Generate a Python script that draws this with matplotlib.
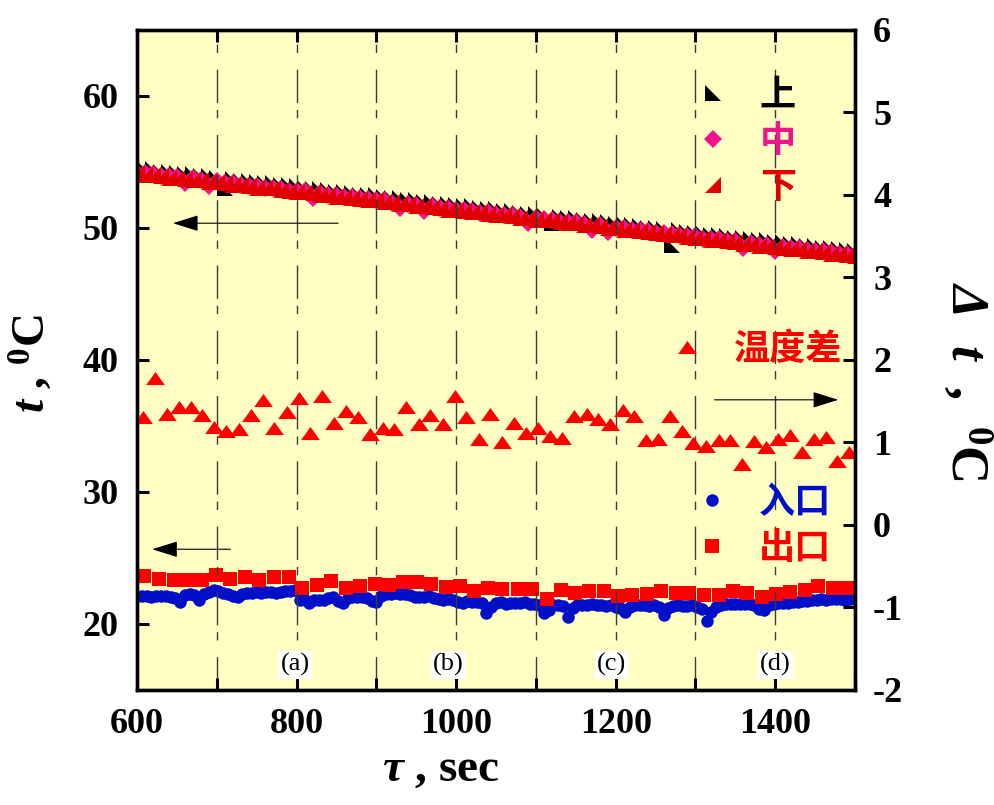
import numpy as np
import matplotlib
matplotlib.use("Agg")
import matplotlib.pyplot as plt
from matplotlib.path import Path
from matplotlib.ticker import MultipleLocator
from matplotlib.font_manager import FontProperties

plt.rcParams.update({
    "font.family": ["Liberation Serif", "DejaVu Serif"],
    "font.weight": "bold",
    "axes.labelweight": "bold",
    "mathtext.fontset": "custom",
    "mathtext.rm": "Liberation Serif:bold:italic",
    "mathtext.it": "Liberation Serif:bold:italic",
    "mathtext.bf": "Liberation Serif:bold",
    "axes.unicode_minus": False,
})

# ---- wall temperatures (top / middle / bottom), sampled every 10 s ----
t_layers = np.arange(600, 1501, 10)
upper = [54.55, 54.43, 54.43, 54.27, 54.24, 54.19, 54.05, 54.07, 53.95, 53.92,
         53.79, 53.02, 53.69, 53.57, 53.59, 53.47, 53.38, 53.38, 53.22, 53.22,
         53.19, 53.05, 52.95, 52.95, 52.85, 52.75, 52.76, 52.66, 52.52, 52.51,
         52.47, 52.34, 52.29, 52.27, 52.11, 52.10, 52.00, 51.97, 51.82, 51.84,
         51.73, 51.63, 51.64, 51.50, 51.46, 51.41, 51.27, 51.26, 51.17, 51.05,
         51.08, 50.98, 50.40, 50.86, 50.74, 50.74, 50.62, 50.51, 50.50, 50.42,
         50.31, 50.32, 50.19, 50.15, 50.01, 50.02, 49.92, 48.68, 49.82, 49.69,
         49.65, 49.62, 49.47, 49.43, 49.38, 49.25, 49.25, 49.16, 49.06, 49.06,
         48.93, 48.90, 48.75, 48.76, 48.67, 48.64, 48.50, 48.47, 48.44, 48.30,
         48.25]
middle = [54.18, 54.17, 54.06, 53.94, 53.95, 53.86, 53.38, 53.76, 53.61, 53.17,
          53.52, 53.39, 53.40, 53.29, 53.20, 53.20, 53.05, 53.03, 52.98, 52.83,
          52.81, 52.78, 52.27, 52.62, 52.52, 52.51, 52.35, 52.32, 52.28, 52.16,
          52.12, 52.08, 51.92, 51.50, 51.85, 51.76, 51.29, 51.65, 51.53, 51.53,
          51.37, 51.35, 51.30, 51.17, 51.18, 51.06, 50.98, 50.96, 50.80, 50.38,
          50.74, 50.65, 50.62, 50.48, 50.45, 50.42, 50.28, 49.83, 50.19, 49.69,
          50.02, 49.99, 49.84, 49.83, 49.75, 49.64, 49.65, 49.53, 49.44, 49.42,
          49.36, 49.20, 49.19, 49.13, 49.03, 49.00, 48.50, 48.83, 48.72, 48.74,
          48.22, 48.57, 48.46, 48.46, 48.35, 48.25, 48.26, 48.15, 48.03, 48.02,
          47.92]
lower = [54.16, 54.04, 54.04, 53.93, 53.82, 53.82, 53.73, 53.63, 53.63, 53.50,
         53.47, 53.37, 53.25, 53.25, 53.20, 53.06, 53.03, 53.01, 52.87, 52.82,
         52.71, 52.71, 52.63, 52.53, 52.52, 52.37, 52.33, 52.30, 52.17, 52.13,
         52.08, 51.93, 51.93, 51.84, 51.81, 51.67, 51.68, 51.55, 51.51, 51.38,
         51.36, 51.31, 51.19, 51.19, 51.07, 50.96, 50.95, 50.89, 50.78, 50.76,
         50.63, 50.59, 50.57, 50.43, 50.39, 50.34, 50.19, 50.19, 50.14, 50.02,
         49.96, 49.86, 49.87, 49.76, 49.66, 49.65, 49.54, 49.43, 49.43, 49.35,
         49.25, 49.24, 49.09, 49.05, 49.00, 48.95, 48.82, 48.78, 48.65, 48.66,
         48.56, 48.51, 48.38, 48.41, 48.28, 48.25, 48.15, 48.05, 48.05, 47.92,
         47.88]

# ---- temperature difference (right axis) ----
t_diff = [608, 623, 638, 653, 668, 682, 697, 712, 728, 743,
          758, 772, 788, 803, 817, 832, 847, 862, 877, 892,
          908, 922, 937, 953, 967, 983, 999, 1013, 1029, 1043,
          1058, 1073, 1088, 1103, 1118, 1133, 1148, 1164, 1178, 1193,
          1209, 1223, 1238, 1253, 1268, 1283, 1297, 1313, 1329, 1343,
          1358, 1373, 1388, 1403, 1419, 1433, 1448, 1464, 1478, 1493]
temp_diff = [1.31, 1.78, 1.35, 1.43, 1.43, 1.33, 1.19, 1.14, 1.16, 1.33,
             1.51, 1.17, 1.37, 1.54, 1.11, 1.56, 1.24, 1.38, 1.31, 1.10,
             1.17, 1.16, 1.43, 1.22, 1.33, 1.22, 1.56, 1.31, 1.04, 1.34,
             1.00, 1.23, 1.12, 1.18, 1.08, 1.06, 1.32, 1.34, 1.28, 1.22,
             1.39, 1.32, 1.03, 1.04, 1.32, 1.14, 0.99, 0.96, 1.03, 1.03,
             0.74, 1.02, 0.95, 1.04, 1.09, 0.89, 1.04, 1.07, 0.77, 0.89]

# ---- inlet water temperature, sampled every 6 s ----
t_inlet = np.arange(600, 1501, 6)
inlet = [22.15, 22.10, 22.13, 22.08, 22.12, 22.15, 22.09, 22.05, 21.95, 21.70,
         22.20, 22.25, 22.22, 21.85, 22.30, 22.45, 22.55, 22.50,
         22.35, 22.28, 22.15, 22.05, 22.25, 22.32,
         22.38, 22.42, 22.35, 22.40, 22.45, 22.38, 22.42, 22.48, 22.50, 22.55,
         21.85, 21.80, 21.60, 21.78, 21.85, 21.80,
         22.00, 22.08, 21.75, 21.58,
         21.95, 22.05, 22.08, 22.02, 21.95, 21.75, 21.70,
         22.10, 22.25, 22.30, 22.32, 22.28, 22.30, 22.20,
         22.05, 22.08, 22.02, 22.10, 22.00,
         21.90, 21.85, 21.92, 21.80, 21.70, 21.60,
         21.75, 21.65, 21.70, 21.62, 20.85, 21.30,
         21.60, 21.65, 21.55, 21.62, 21.58, 21.60, 21.65, 21.55, 21.50, 21.40,
         20.80, 21.05, 21.45, 21.40, 21.35, 20.55,
         21.20, 21.40, 21.45, 21.42, 21.48, 21.40, 21.45, 21.38, 21.42, 21.30, 21.20,
         20.92,
         21.30, 21.42, 21.45, 21.40, 21.38, 21.42, 21.30,
         20.70,
         21.20, 21.35, 21.40, 21.38, 21.35, 21.40, 21.30, 21.10,
         20.20, 20.90,
         21.30, 21.45, 21.50, 21.52, 21.48, 21.50, 21.55, 21.48, 21.40,
         21.10, 21.05,
         21.45, 21.55, 21.60, 21.62, 21.58, 21.65, 21.70, 21.72, 21.75,
         21.80, 21.85, 21.88, 21.85, 21.90, 21.88, 21.92, 21.85, 21.90, 21.88]

# ---- outlet water temperature ----
t_outlet = [609, 628, 646, 664, 681, 699, 717, 735, 753, 772,
            790, 807, 825, 843, 862, 880, 898, 916, 934, 951,
            969, 987, 1005, 1023, 1040, 1058, 1078, 1095, 1114, 1131,
            1149, 1167, 1185, 1203, 1221, 1239, 1257, 1276, 1292, 1311,
            1329, 1347, 1364, 1383, 1401, 1419, 1437, 1454, 1473, 1490]
outlet = [23.63, 23.38, 23.30, 23.30, 23.30, 23.68, 23.38, 23.55, 23.30, 23.55,
          23.55, 22.75, 22.93, 23.25, 22.72, 22.88, 23.05, 22.98, 23.18, 23.18,
          23.05, 22.80, 22.85, 22.47, 22.75, 22.68, 22.68, 22.68, 21.87, 22.55,
          22.37, 22.50, 22.50, 22.12, 22.22, 22.30, 22.47, 22.35, 22.35, 22.17,
          22.17, 22.47, 22.35, 22.05, 22.30, 22.42, 22.55, 22.85, 22.73, 22.73]

# ---- stage labels along the bottom ----
stage_labels = ["(a)", "(b)", "(c)", "(d)"]
stage_t = [798, 990, 1195, 1400]

# ---- marker shapes ----
tri_ll = Path([(-1, 1), (-1, -1), (1, -1), (-1, 1)], closed=True)     # right angle lower-left
tri_lr = Path([(1, 1), (1, -1), (-1, -1), (1, 1)], closed=True)       # right angle lower-right
tri_up = Path([(0, 0.7), (-1, -0.7), (1, -0.7), (0, 0.7)], closed=True)

BLACK, PINK, DRED, RED, BLUE = "#000000", "#F0148C", "#E00000", "#FF0000", "#0010C8"
BG = "#FFFFC4"

fig = plt.figure(figsize=(9.95, 8.05), dpi=100)
ax = fig.add_axes([0.1377, 0.1429, 0.7216, 0.8199])
ax.set_facecolor(BG)
ax.set_xlim(600, 1500)
ax.set_ylim(15, 65)

h_up, = ax.plot(t_layers, upper, ls="none", marker=tri_ll, ms=11, mew=0, color=BLACK, zorder=2)
h_mid, = ax.plot(t_layers, middle, ls="none", marker="D", ms=9, mew=0, color=PINK, zorder=2.1)
h_low, = ax.plot(t_layers, lower, ls="none", marker=tri_lr, ms=11, mew=0, color=DRED, zorder=2.2)
h_in, = ax.plot(t_inlet, inlet, ls="none", marker="o", ms=9, mew=0, color=BLUE, zorder=2)
h_out, = ax.plot(t_outlet, outlet, ls="none", marker="s", ms=10, mew=0, color=RED, zorder=2.1)

# dash-dot vertical guides every 100 s
ax.xaxis.set_major_locator(MultipleLocator(200))
ax.xaxis.set_minor_locator(MultipleLocator(100))
ax.set_yticks([20, 30, 40, 50, 60])
ax.set_axisbelow(False)
ax.grid(axis="x", which="both", color="#3a3a3a", lw=1.0, linestyle=(0, (24, 12, 6, 5)))

ax.tick_params(which="both", direction="in", length=8.6, width=2.2, top=True, right=False,
               labelsize=26, pad=13)

ax2 = ax.twinx()
ax2.set_ylim(-2, 6)
ax2.set_yticks(range(-2, 7))
ax2.tick_params(direction="in", length=8.6, width=2.2, labelsize=26, pad=13)
h_diff, = ax2.plot(t_diff, temp_diff, ls="none", marker=tri_up, ms=13.5, mew=0, color=RED)

for a in (ax, ax2):
    for s in a.spines.values():
        s.set_linewidth(2.4)

# axis titles
ax.set_ylabel(r"$t$ , $^{\mathbf{0}}$C", fontsize=34, fontweight="bold", ha="center", va="center")
ax.yaxis.set_label_coords(-0.148, 0.495)
ax2.set_ylabel(r"$\Delta\ \ t$  ,  $^{\mathbf{0}}$C", fontsize=38, fontweight="bold", rotation=-90,
               ha="center", va="center")
ax2.yaxis.set_label_coords(1.156, 0.467)
ax.set_xlabel(r"$\tau$ , sec", fontsize=34, fontweight="bold", va="center")
ax.xaxis.set_label_coords(0.423, -0.121)

# direction arrows
arrow_kw = dict(arrowstyle="-|>,head_length=1.6,head_width=0.5", color="black",
                lw=0.8, mutation_scale=10, shrinkA=0, shrinkB=0)
ax.annotate("", xy=(645, 50.36), xytext=(852, 50.36), arrowprops=arrow_kw)
ax.annotate("", xy=(619, 25.66), xytext=(717, 25.66), arrowprops=arrow_kw)
ax.annotate("", xy=(1479, 36.98), xytext=(1324, 36.98), arrowprops=arrow_kw)

# stage labels
for lab, tx in zip(stage_labels, stage_t):
    ax.text(tx, 16.9, lab, fontsize=19, fontweight="normal", ha="center", va="center",
            bbox=dict(facecolor="white", edgecolor="none", pad=1.5), zorder=5)

# legends
cjk = FontProperties(family=["Noto Sans CJK SC", "DejaVu Sans"], weight="bold", size=26)
leg_kw = dict(loc="upper left", frameon=False, prop=cjk, handlelength=1.0,
              handletextpad=0.8, labelspacing=0.25, borderpad=0, borderaxespad=0,
              numpoints=1)
leg1 = ax2.legend([h_up, h_mid, h_low], ["上", "中", "下"], bbox_to_anchor=(0.777, 0.929),
                  labelcolor=[BLACK, PINK, DRED], **leg_kw)
ax2.add_artist(leg1)
leg2 = ax2.legend([h_diff], ["温度差"], bbox_to_anchor=(0.741, 0.544),
                  labelcolor=[RED], **leg_kw)
ax2.add_artist(leg2)
leg3 = ax2.legend([h_in, h_out], ["入口", "出口"], bbox_to_anchor=(0.776, 0.312),
                  labelcolor=[BLUE, RED], **leg_kw)

fig.savefig("out.png", dpi=100)
